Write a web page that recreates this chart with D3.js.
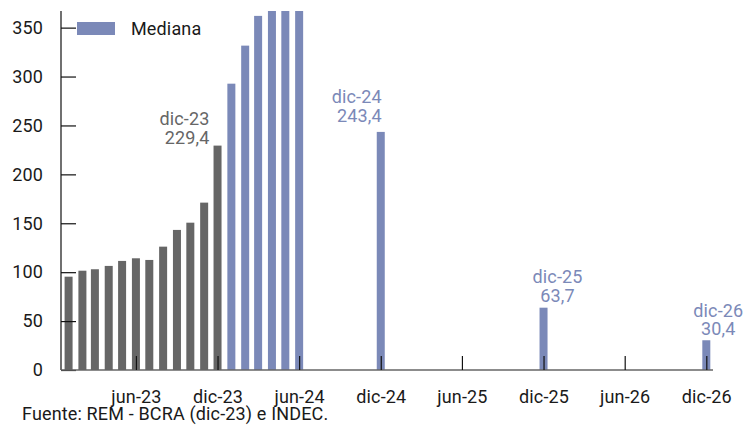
<!DOCTYPE html>
<html>
<head>
<meta charset="utf-8">
<script src="https://cdn.jsdelivr.net/npm/d3@7"></script>
<style>
  html, body { margin: 0; padding: 0; background: #ffffff; }
  svg { display: block; font-family: Roboto, "Noto Sans", sans-serif; }
  svg text { letter-spacing: 0.15px; }
</style>
</head>
<body>
<svg id="chart" width="747" height="432"></svg>
<script>
// ---------- data ----------
const histMonths = ["2023-01","2023-02","2023-03","2023-04","2023-05","2023-06","2023-07","2023-08","2023-09","2023-10","2023-11","2023-12"];
const histValues = [95.4, 101.5, 103.0, 106.4, 111.5, 114.2, 112.5, 126.1, 143.2, 150.6, 171.1, 229.4];

const remMonths = ["2024-01","2024-02","2024-03","2024-04","2024-05","2024-06","2024-12","2025-12","2026-12"];
const remValues = [292.7, 331.6, 362.0, 385.0, 390.0, 395.0, 243.4, 63.7, 30.4];

const yTicks = [0, 50, 100, 150, 200, 250, 300, 350];
const xTickMonths = ["2023-06","2023-12","2024-06","2024-12","2025-06","2025-12","2026-06","2026-12"];
const monthNames = ["ene","feb","mar","abr","may","jun","jul","ago","sep","oct","nov","dic"];

const annotations = [
  { month: "2023-12", value: 229.4, lines: ["dic-23", "229,4"], series: "hist" },
  { month: "2024-12", value: 243.4, lines: ["dic-24", "243,4"], series: "rem" },
  { month: "2025-12", value: 63.7,  lines: ["dic-25", "63,7"],  series: "rem" },
  { month: "2026-12", value: 30.4,  lines: ["dic-26", "30,4"],  series: "rem" }
];
const legendLabel = "Mediana";
const sourceText = "Fuente: REM - BCRA (dic-23) e INDEC.";

// ---------- style ----------
const greyColor = "#666666";
const blueColor = "#7b89b8";
const fontSize = 18;
const annoStyle = {
  "2023-12": { anchor: "end",    dx: -8,  dy: -2 },
  "2024-12": { anchor: "end",    dx: 1,   dy: -10 },
  "2025-12": { anchor: "middle", dx: 14,  dy: -6 },
  "2026-12": { anchor: "middle", dx: 12,  dy: -5 }
};

const parse = d3.utcParse("%Y-%m");
const svg = d3.select("#chart");

const mLeft = 61, mRight = 713, mTop = 11, mBottom = 370;

const x = d3.scaleUtc()
  .domain([new Date(Date.UTC(2022, 11, 15)), new Date(Date.UTC(2026, 11, 16))])
  .range([mLeft, mRight]);
const y = d3.scaleLinear().domain([0, 367]).range([mBottom, mTop]);

const barW = 8;

svg.append("defs").append("clipPath").attr("id", "plotclip")
  .append("rect").attr("x", mLeft).attr("y", mTop).attr("width", mRight - mLeft).attr("height", mBottom - mTop);

const plot = svg.append("g").attr("clip-path", "url(#plotclip)");

plot.selectAll("rect.hist")
  .data(histMonths.map((m, i) => ({ date: parse(m), value: histValues[i] })))
  .join("rect").attr("class", "hist")
  .attr("x", d => x(d.date) - barW / 2)
  .attr("width", barW)
  .attr("y", d => y(d.value))
  .attr("height", d => y(0) - y(d.value))
  .attr("fill", greyColor);

plot.selectAll("rect.rem")
  .data(remMonths.map((m, i) => ({ date: parse(m), value: remValues[i] })))
  .join("rect").attr("class", "rem")
  .attr("x", d => x(d.date) - barW / 2)
  .attr("width", barW)
  .attr("y", d => y(d.value))
  .attr("height", d => y(0) - y(d.value))
  .attr("fill", blueColor);

// ---------- axes ----------
const yAxis = d3.axisLeft(y).tickValues(yTicks).tickSize(-15).tickPadding(18);
const gy = svg.append("g").attr("transform", `translate(${mLeft},0)`).call(yAxis);
gy.select(".domain").attr("d", `M0,${mTop}V${mBottom}`).attr("stroke", "#111").attr("stroke-width", 1.2);
gy.selectAll(".tick line").attr("stroke", "#111").attr("stroke-width", 1.2);
gy.selectAll(".tick text").attr("font-size", fontSize).attr("fill", "#1a1a1a").attr("font-family", "Roboto");

const fmt = d => monthNames[d.getUTCMonth()] + "-" + String(d.getUTCFullYear()).slice(2);
const xAxis = d3.axisBottom(x).tickValues(xTickMonths.map(parse)).tickFormat(fmt).tickSize(-14).tickPadding(20);
const gx = svg.append("g").attr("transform", `translate(0,${mBottom})`).call(xAxis);
gx.select(".domain").attr("d", `M${mLeft},0H${mRight}`).attr("stroke", "#666").attr("stroke-width", 1.5);
gx.selectAll(".tick line").attr("stroke", "#111").attr("stroke-width", 1.2);
gx.selectAll(".tick text").attr("font-size", fontSize).attr("fill", "#1a1a1a").attr("font-family", "Roboto");

// ---------- annotations ----------
annotations.forEach(a => {
  const st = annoStyle[a.month];
  const cx = x(parse(a.month)) + st.dx;
  const baseY = y(a.value) + st.dy;
  const color = a.series === "hist" ? greyColor : blueColor;
  const t = svg.append("text")
    .attr("text-anchor", st.anchor)
    .attr("font-size", fontSize)
    .attr("fill", color);
  const lineH = 18.5;
  a.lines.forEach((ln, i) => {
    t.append("tspan").attr("x", cx).attr("y", baseY - (a.lines.length - 1 - i) * lineH).text(ln);
  });
});

// ---------- legend ----------
const lg = svg.append("g");
lg.append("rect").attr("x", 77).attr("y", 22).attr("width", 38).attr("height", 13).attr("fill", blueColor);
lg.append("text").attr("x", 131).attr("y", 34.5).attr("font-size", fontSize).attr("fill", "#1a1a1a").text(legendLabel);

// ---------- source ----------
svg.append("text").attr("x", 22).attr("y", 419.5).attr("font-size", fontSize).attr("fill", "#1a1a1a").text(sourceText);
</script>
</body>
</html>
